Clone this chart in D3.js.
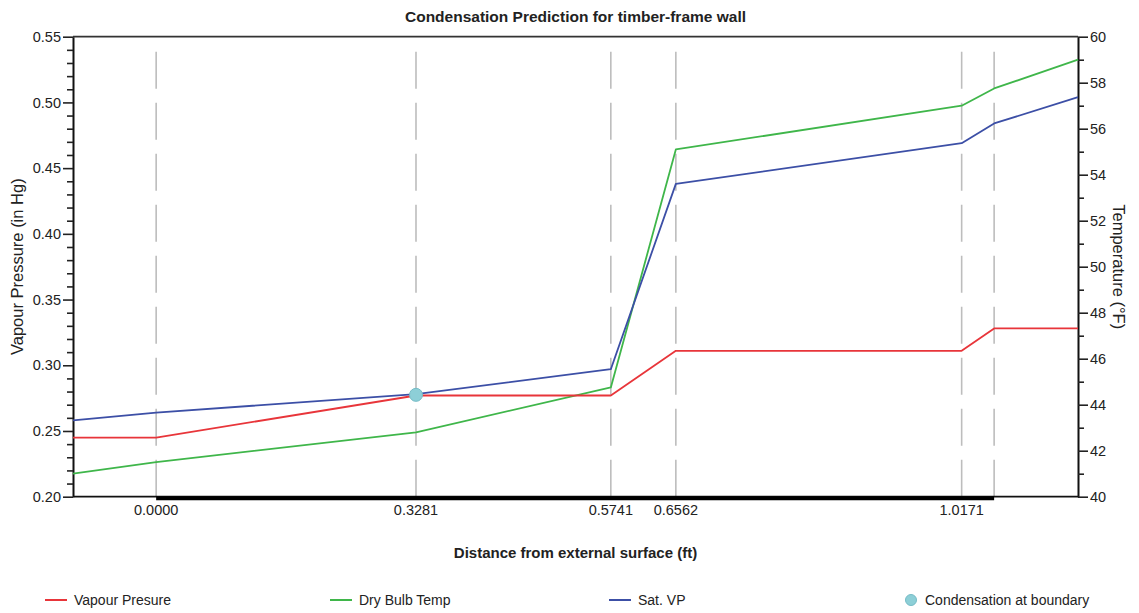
<!DOCTYPE html>
<html>
<head>
<meta charset="utf-8">
<script src="https://cdn.jsdelivr.net/npm/d3@7"></script>
<style>
  html, body { margin: 0; padding: 0; background: #fff; }
  svg { display: block; font-family: "Liberation Sans", Arial, Helvetica, sans-serif; }
</style>
</head>
<body>
<svg id="chart" width="1139" height="613"></svg>
<script>
// Distance through the wall (ft): outside air, layer boundaries, inside air
const positions = [-0.105, 0.0, 0.3281, 0.5741, 0.6562, 1.0171, 1.0581, 1.164];
// Layer boundaries marked with dashed lines
const boundaries = [0.0, 0.3281, 0.5741, 0.6562, 1.0171, 1.0581];
// Boundaries that carry a distance label
const boundaryLabels = [0.0, 0.3281, 0.5741, 0.6562, 1.0171];

// Vapour pressure (in Hg)
const vapourPressure = [0.245, 0.245, 0.277, 0.277, 0.311, 0.311, 0.328, 0.328];
// Saturation vapour pressure (in Hg)
const satVP = [0.258, 0.264, 0.278, 0.297, 0.438, 0.469, 0.484, 0.504];
// Dry bulb temperature (°F)
const dryBulb = [41.0, 41.5, 42.8, 44.75, 55.1, 57.0, 57.75, 59.0];

// Boundaries where condensation is predicted
const condensationAt = [0.3281];
const condensationVP = [0.2775];

// Axis ticks
const vpMajorTicks = [0.20, 0.25, 0.30, 0.35, 0.40, 0.45, 0.50, 0.55];
const tempMajorTicks = [40, 42, 44, 46, 48, 50, 52, 54, 56, 58, 60];

const colors = { vp: "#e8353a", temp: "#3fb64a", sat: "#3c4fa6", cond: "#8dcfd7" };

const svg = d3.select("#chart");
const plotLeft = 73, plotRight = 1078, plotTop = 36.7, plotBottom = 496.7;

const x = d3.scaleLinear().domain([positions[0], positions[positions.length - 1]]).range([plotLeft, plotRight]);
const yVP = d3.scaleLinear().domain([0.20, 0.55]).range([plotBottom, plotTop]);
const yT = d3.scaleLinear().domain([40, 60]).range([plotBottom, plotTop]);

// Dashed boundary lines
svg.append("g").selectAll("line").data(boundaries).join("line")
  .attr("x1", d => x(d)).attr("x2", d => x(d))
  .attr("y1", 51.7).attr("y2", plotBottom)
  .attr("stroke", "#bdbdbd").attr("stroke-width", 1.6)
  .attr("stroke-dasharray", "37,14");

// Frame: top border
svg.append("line").attr("x1", plotLeft).attr("x2", plotRight).attr("y1", plotTop).attr("y2", plotTop)
  .attr("stroke", "#333").attr("stroke-width", 1.8);

// Bottom axis with the wall extent emphasised
svg.append("line").attr("x1", plotLeft).attr("x2", plotRight).attr("y1", plotBottom).attr("y2", plotBottom)
  .attr("stroke", "#111").attr("stroke-width", 1.8);
svg.append("line")
  .attr("x1", x(boundaries[0])).attr("x2", x(boundaries[boundaries.length - 1]))
  .attr("y1", plotBottom + 1.5).attr("y2", plotBottom + 1.5)
  .attr("stroke", "#000").attr("stroke-width", 4);

// Distance labels
svg.append("g").selectAll("text").data(boundaryLabels).join("text")
  .attr("x", d => x(d)).attr("y", 515)
  .attr("text-anchor", "middle").attr("font-size", 14.5).attr("fill", "#222")
  .text(d => d3.format(".4f")(d));

// Left axis (vapour pressure)
const vpMinor = d3.range(20, 56).map(v => v / 100).filter(v => !vpMajorTicks.some(m => Math.abs(m - v) < 1e-9));
const gL = svg.append("g").attr("transform", `translate(${plotLeft},0)`);
gL.call(d3.axisLeft(yVP).tickValues(vpMajorTicks).tickFormat(d3.format(".2f")).tickSize(10).tickPadding(2).tickSizeOuter(0));
gL.append("g").call(d3.axisLeft(yVP).tickValues(vpMinor).tickFormat("").tickSize(6).tickSizeOuter(0))
  .select(".domain").remove();

// Right axis (temperature)
const tMinor = d3.range(41, 60, 2);
const gR = svg.append("g").attr("transform", `translate(${plotRight},0)`);
gR.call(d3.axisRight(yT).tickValues(tempMajorTicks).tickFormat(d3.format("d")).tickSize(10).tickPadding(2).tickSizeOuter(0));
gR.append("g").call(d3.axisRight(yT).tickValues(tMinor).tickFormat("").tickSize(6).tickSizeOuter(0))
  .select(".domain").remove();

[gL, gR].forEach(g => {
  g.selectAll(".domain").attr("stroke", "#111").attr("stroke-width", 2);
  g.selectAll(".tick line").attr("stroke", "#222").attr("stroke-width", 1.6);
  g.selectAll(".tick text").attr("font-size", 14.5).attr("fill", "#222")
    .attr("font-family", "'Liberation Sans', Arial, sans-serif");
});

// Series lines
const series = [
  { values: dryBulb, y: yT, color: colors.temp },
  { values: satVP, y: yVP, color: colors.sat },
  { values: vapourPressure, y: yVP, color: colors.vp }
];
series.forEach(s => {
  const line = d3.line().x((d, i) => x(positions[i])).y(d => s.y(d));
  svg.append("path").datum(s.values)
    .attr("d", line).attr("fill", "none")
    .attr("stroke", s.color).attr("stroke-width", 1.8)
    .attr("stroke-linejoin", "round");
});

// Condensation markers
svg.append("g").selectAll("circle").data(condensationAt).join("circle")
  .attr("cx", d => x(d)).attr("cy", (d, i) => yVP(condensationVP[i]))
  .attr("r", 6.5).attr("fill", colors.cond).attr("stroke", "#76bcc6").attr("stroke-width", 1);

// Titles
svg.append("text").attr("x", (plotLeft + plotRight) / 2).attr("y", 22)
  .attr("text-anchor", "middle").attr("font-size", 15.5).attr("font-weight", "bold").attr("fill", "#222")
  .text("Condensation Prediction for timber-frame wall");

svg.append("text").attr("x", (plotLeft + plotRight) / 2).attr("y", 558)
  .attr("text-anchor", "middle").attr("font-size", 15).attr("font-weight", "bold").attr("fill", "#222")
  .text("Distance from external surface (ft)");

svg.append("text")
  .attr("transform", `translate(23,${(plotTop + plotBottom) / 2}) rotate(-90)`)
  .attr("text-anchor", "middle").attr("font-size", 16.5).attr("fill", "#222")
  .text("Vapour Pressure (in Hg)");

svg.append("text")
  .attr("transform", `translate(1113,${(plotTop + plotBottom) / 2}) rotate(90)`)
  .attr("text-anchor", "middle").attr("font-size", 16.5).attr("fill", "#222")
  .text("Temperature (°F)");

// Legend
const legendItems = [
  { label: "Vapour Presure", color: colors.vp, type: "line", x: 45 },
  { label: "Dry Bulb Temp", color: colors.temp, type: "line", x: 330 },
  { label: "Sat. VP", color: colors.sat, type: "line", x: 609 },
  { label: "Condensation at boundary", color: colors.cond, type: "dot", x: 904 }
];
const lg = svg.append("g").selectAll("g").data(legendItems).join("g")
  .attr("transform", d => `translate(${d.x},600)`);
lg.filter(d => d.type === "line").append("line")
  .attr("x1", 0).attr("x2", 22).attr("y1", 0).attr("y2", 0)
  .attr("stroke", d => d.color).attr("stroke-width", 2);
lg.filter(d => d.type === "dot").append("circle")
  .attr("cx", 7).attr("cy", 0).attr("r", 5.5)
  .attr("fill", d => d.color).attr("stroke", "#76bcc6");
lg.append("text")
  .attr("x", d => d.type === "dot" ? 21 : 29).attr("y", 5)
  .attr("font-size", 14).attr("fill", "#222")
  .text(d => d.label);
</script>
</body>
</html>
